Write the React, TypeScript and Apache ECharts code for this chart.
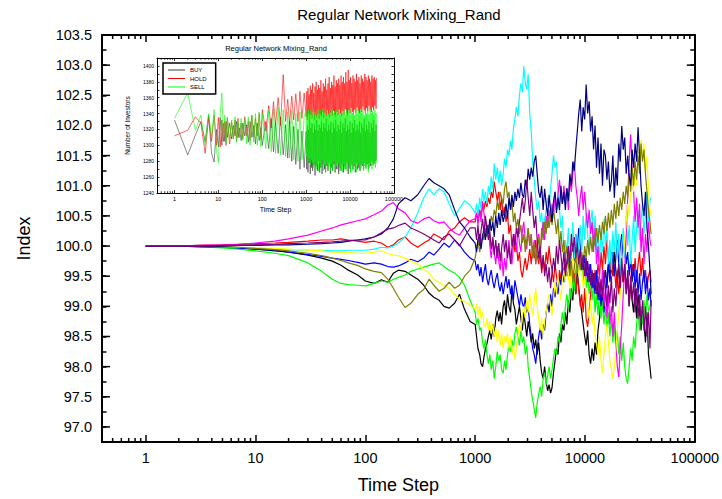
import { useEffect, useRef } from 'react';
import * as echarts from 'echarts';

const FONT = '"Liberation Sans", Arial, Helvetica, sans-serif';

// time steps (shared by all index runs)
const preSteps = [1, 2, 3, 5, 7, 10, 15, 20, 30, 40, 50, 60, 70, 85, 100, 120, 140, 160, 180, 200, 230, 260, 300, 340, 380, 420, 470, 520, 580, 650, 720, 800, 900];
const denseSteps = [
  1000, 1030, 1060, 1100, 1130, 1170, 1200, 1240, 1280, 1320,
  1360, 1400, 1450, 1490, 1540, 1590, 1640, 1690, 1740, 1800,
  1850, 1910, 1970, 2030, 2100, 2160, 2230, 2300, 2370, 2450,
  2530, 2610, 2690, 2770, 2860, 2950, 3040, 3140, 3240, 3340,
  3450, 3560, 3670, 3790, 3910, 4030, 4160, 4290, 4430, 4570,
  4710, 4860, 5010, 5170, 5340, 5500, 5680, 5860, 6040, 6230,
  6430, 6630, 6840, 7060, 7280, 7510, 7750, 7990, 8250, 8510,
  8770, 9050, 9340, 9630, 9940, 10250, 10570, 10910, 11250, 11610,
  11970, 12350, 12740, 13140, 13560, 13990, 14430, 14880, 15350, 15840,
  16340, 16850, 17390, 17940, 18500, 19090, 19690, 20310, 20950, 21620,
  22300, 23000, 23730, 24480, 25250, 26050, 26870, 27720, 28600, 29500,
  30430, 31390, 32390, 33410, 34470, 35560, 36680, 37840, 39040, 40000,
];
const steps = [...preSteps, ...denseSteps];

const runBlack = [
  100, 100, 99.99, 99.98, 99.97, 99.95, 99.92, 99.9, 99.85, 99.8, 99.75, 99.68, 99.6, 99.52, 99.42, 99.38, 99.44, 99.4, 99.55, 99.6, 99.58, 99.52, 99.45, 99.35, 99.22, 99.15, 99.1, 99.0, 98.97, 99.05, 99.2, 98.95, 98.75,
  98.7, 98.5, 98.3, 98.2, 98.05, 98.0, 98.15, 98.3, 98.38, 98.5,
  98.6, 98.45, 98.7, 98.5, 98.8, 98.93, 98.75, 98.9, 98.7, 99.0,
  99.1, 98.85, 99.2, 99.0, 98.9, 99.3, 99.05, 98.95, 98.7, 98.85,
  99.0, 98.8, 98.6, 98.9, 98.7, 98.5, 98.75, 98.6, 98.4, 98.55,
  98.3, 98.45, 98.2, 98.4, 98.1, 97.9, 97.8, 98.0, 97.75, 97.6,
  97.7, 97.56, 97.65, 97.9, 98.1, 98.3, 98.2, 98.55, 98.4, 98.7,
  98.6, 98.9, 98.7, 99.1, 98.9, 99.3, 99.1, 99.5, 99.2, 99.6,
  99.3, 99.1, 98.9, 98.7, 98.5, 98.35, 98.6, 98.2, 98.05, 98.3,
  98.1, 98.4, 98.2, 98.6, 98.8, 99.2, 99.0, 99.4, 99.6, 99.3,
  99.7, 99.5, 99.8, 99.5, 99.9, 99.6, 99.4, 99.7, 99.3, 99.6,
  99.4, 99.7, 99.3, 99.5, 99.0, 99.4, 99.1, 98.9, 99.3, 98.8,
  99.2, 98.9, 98.6, 99.0, 98.7, 98.4, 98.9, 98.2, 98.0, 97.8,
];
const runRed = [
  100, 100, 100.01, 100.02, 100.03, 100.04, 100.05, 100.06, 100.08, 100.1, 100.1, 100.12, 100.1, 100.08, 100.06, 100.08, 100.05, 99.98, 100.02, 100.1, 100.15, 100.05, 99.98, 100.05, 100.1, 100.2, 100.15, 100.1, 100.25, 100.3, 100.4, 100.47, 100.4,
  100.4, 100.55, 100.45, 100.6, 100.5, 100.7, 100.6, 100.75, 100.65, 100.8,
  100.7, 100.9, 100.8, 101.07, 100.9, 100.75, 100.9, 100.6, 100.8, 100.5,
  100.65, 100.4, 100.55, 100.2, 100.35, 100.0, 100.15, 99.9, 100.05, 99.75,
  99.9, 99.6, 99.48, 99.65, 99.8, 99.6, 99.75, 99.95, 99.7, 100.0,
  99.8, 100.1, 99.85, 99.7, 99.9, 99.55, 99.8, 99.6, 99.9, 99.7,
  100.0, 99.75, 99.6, 99.4, 99.7, 99.5, 99.3, 99.6, 99.45, 99.7,
  99.5, 99.8, 99.6, 99.9, 99.5, 99.7, 99.4, 99.6, 99.2, 99.5,
  99.3, 99.0, 99.2, 98.9, 99.3, 98.8, 98.66, 98.9, 99.2, 99.5,
  99.3, 99.6, 99.4, 99.7, 99.5, 99.9, 99.6, 100.0, 99.7, 100.1,
  99.8, 99.6, 99.9, 99.5, 99.7, 99.3, 99.6, 99.2, 99.5, 99.7,
  99.4, 99.6, 99.2, 99.5, 99.1, 99.4, 99.7, 99.5, 99.8, 99.4,
  99.7, 99.9, 99.5, 99.8, 99.4, 99.6, 99.3, 99.5, 99.6, 99.4,
];
const runGreen = [
  100, 100, 99.99, 99.97, 99.95, 99.92, 99.88, 99.84, 99.72, 99.58, 99.45, 99.38, 99.36, 99.35, 99.34, 99.38, 99.42, 99.4, 99.45, 99.48, 99.52, 99.58, 99.62, 99.65, 99.68, 99.7, 99.72, 99.66, 99.6, 99.55, 99.48, 99.35, 99.1,
  98.9, 98.7, 98.8, 98.6, 98.65, 98.4, 98.3, 98.45, 98.2, 98.05,
  98.2, 97.95, 98.1, 97.8, 98.0, 98.25, 98.1, 98.2, 97.95, 97.89,
  98.1, 97.95, 98.2, 98.35, 98.25, 98.45, 98.3, 98.55, 98.66, 98.5,
  98.35, 98.6, 98.4, 98.5, 98.2, 98.35, 98.0, 97.8, 97.6, 97.45,
  97.3, 97.15, 97.4, 97.55, 97.67, 97.5, 97.8, 97.9, 97.7, 97.85,
  98.0, 97.8, 97.95, 98.15, 98.3, 98.2, 98.5, 98.4, 98.7, 98.9,
  98.7, 99.0, 99.2, 98.95, 99.3, 99.1, 99.5, 99.25, 99.6, 99.8,
  99.97, 99.6, 99.8, 99.4, 99.7, 99.3, 99.55, 99.2, 99.5, 99.1,
  99.4, 98.9, 99.2, 98.85, 99.3, 98.8, 99.1, 98.7, 99.0, 98.6,
  98.9, 98.5, 98.8, 98.4, 98.7, 98.3, 98.6, 98.2, 98.5, 98.1,
  98.4, 98.0, 97.8, 97.72, 98.0, 98.3, 98.1, 98.5, 98.3, 98.7,
  98.9, 98.6, 99.0, 98.7, 99.1, 98.8, 99.2, 98.9, 99.0, 99.1,
];
const runBlue = [
  100, 100, 99.99, 99.98, 99.97, 99.95, 99.93, 99.9, 99.86, 99.83, 99.8, 99.78, 99.76, 99.73, 99.7, 99.72, 99.7, 99.66, 99.65, 99.67, 99.72, 99.78, 99.74, 99.8, 99.9, 99.85, 99.95, 100.05, 99.98, 100.1, 100.02, 99.9, 99.8,
  99.75, 99.6, 99.7, 99.5, 99.65, 99.4, 99.55, 99.7, 99.45, 99.35,
  99.5, 99.6, 99.4, 99.3, 99.45, 99.55, 99.35, 99.25, 99.4, 99.2,
  99.35, 99.5, 99.3, 99.45, 99.2, 99.35, 99.1, 99.43, 99.3, 99.15,
  99.0, 99.2, 99.05, 98.98, 99.15, 98.9, 98.98, 98.7, 98.5, 98.3,
  98.2, 98.05, 98.3, 98.5, 98.66, 98.45, 98.7, 98.6, 98.9, 99.05,
  98.9, 99.2, 99.0, 99.3, 99.15, 99.4, 99.2, 99.5, 99.35, 99.6,
  99.4, 99.7, 99.5, 99.8, 99.6, 99.9, 100.05, 99.75, 100.2, 99.9,
  100.3, 100.0, 99.8, 99.6, 99.85, 99.5, 99.75, 99.4, 99.7, 99.3,
  99.55, 99.2, 99.6, 99.1, 99.4, 99.0, 99.3, 98.9, 99.2, 99.5,
  99.7, 99.4, 99.6, 99.9, 99.5, 99.8, 100.1, 99.7, 100.0, 100.2,
  99.8, 100.1, 99.7, 99.9, 99.5, 99.8, 99.4, 99.7, 99.3, 99.6,
  99.2, 99.55, 99.1, 99.4, 99.6, 99.2, 99.5, 99.1, 99.3, 99.0,
];
const runCyan = [
  100, 100, 100, 99.99, 99.98, 99.97, 99.95, 99.94, 99.93, 99.93, 99.92, 99.92, 99.93, 99.93, 99.93, 99.95, 99.98, 99.97, 100.0, 100.05, 100.15, 100.3, 100.55, 100.8, 100.95, 100.85, 100.95, 100.9, 100.7, 100.5, 100.62, 100.75, 100.68,
  100.55, 100.7, 100.5, 100.8, 100.62, 100.95, 100.75, 100.9, 100.7, 101.0,
  100.85, 101.15, 100.95, 101.37, 101.1, 101.3, 101.05, 101.25, 101.0, 101.2,
  101.45, 101.3, 101.6, 101.5, 101.75, 101.6, 101.95, 102.1, 102.3, 102.15,
  102.5, 102.7, 102.55, 102.98, 102.7, 102.6, 102.85, 102.2, 101.9, 101.4,
  101.1, 100.8, 100.6, 100.75, 100.4, 100.55, 100.2, 100.45, 100.6, 100.8,
  100.65, 100.95, 101.2, 101.5, 101.3, 101.4, 100.9, 100.6, 100.3, 100.5,
  99.8, 100.1, 99.9, 100.3, 99.7, 100.0, 100.4, 99.8, 100.2, 99.6,
  100.0, 100.35, 99.9, 100.5, 100.1, 100.55, 100.2, 99.9, 100.4, 100.6,
  100.15, 100.5, 99.9, 100.3, 99.75, 100.2, 99.9, 100.45, 100.0, 100.3,
  99.7, 100.1, 99.6, 100.25, 99.9, 100.4, 99.8, 100.2, 99.5, 100.0,
  100.3, 99.8, 100.5, 100.0, 100.35, 99.7, 100.1, 100.5, 99.9, 100.3,
  100.6, 100.1, 100.4, 100.7, 100.2, 100.55, 100.9, 100.4, 100.75, 100.8,
];
const runMagenta = [
  100, 100, 100.01, 100.02, 100.03, 100.05, 100.08, 100.12, 100.18, 100.25, 100.3, 100.35, 100.38, 100.42, 100.45, 100.52, 100.58, 100.68, 100.72, 100.62, 100.55, 100.42, 100.38, 100.45, 100.48, 100.42, 100.38, 100.4, 100.3, 100.22, 100.18, 100.3, 100.42,
  100.45, 100.55, 100.35, 100.6, 100.4, 100.74, 100.55, 100.4, 100.2, 100.35,
  100.0, 99.8, 100.1, 99.9, 99.7, 100.0, 99.75, 99.6, 99.9, 99.5,
  99.8, 99.6, 99.9, 100.1, 99.8, 99.7, 100.0, 100.2, 99.9, 100.3,
  100.05, 99.9, 100.25, 100.4, 100.1, 99.95, 100.3, 100.0, 100.2, 99.8,
  100.1, 99.7, 100.0, 100.2, 99.9, 100.15, 100.4, 100.1, 100.5, 100.3,
  100.6, 100.4, 100.7, 100.5, 100.9, 100.6, 100.85, 101.1, 100.8, 100.7,
  101.0, 100.75, 100.95, 100.6, 101.1, 100.9, 101.2, 101.4, 101.0, 100.8,
  100.5, 100.8, 101.0, 100.6, 100.9, 100.55, 100.3, 100.6, 100.2, 100.4,
  99.9, 100.3, 99.7, 100.0, 99.5, 99.2, 99.6, 99.0, 99.35, 98.8,
  99.2, 98.7, 99.0, 98.5, 98.9, 98.4, 98.0, 97.83, 98.3, 98.7,
  99.2, 99.6, 100.2, 100.8, 101.4, 101.85, 101.3, 100.9, 100.4, 100.8,
  100.3, 100.7, 99.9, 100.3, 99.7, 100.2, 99.9, 100.4, 100.1, 100.0,
];
const runYellow = [
  100, 100, 100, 99.99, 99.98, 99.97, 99.96, 99.95, 99.93, 99.92, 99.9, 99.9, 99.89, 99.88, 99.88, 99.9, 99.92, 99.88, 99.85, 99.84, 99.8, 99.75, 99.7, 99.62, 99.55, 99.45, 99.4, 99.35, 99.3, 99.2, 99.12, 99.08, 99.02,
  98.95, 99.05, 98.85, 99.0, 98.8, 98.9, 98.7, 98.66, 98.8, 98.6,
  98.75, 98.55, 98.7, 98.5, 98.65, 98.4, 98.6, 98.35, 98.55, 98.3,
  98.5, 98.4, 98.55, 98.3, 98.5, 98.2, 98.35, 98.12, 98.3, 98.5,
  98.7, 98.6, 98.85, 99.0, 98.8, 99.1, 98.9, 99.2, 99.0, 98.85,
  99.1, 99.3, 99.0, 98.8, 98.6, 98.8, 98.5, 98.75, 98.9, 99.1,
  99.2, 99.0, 98.85, 99.15, 99.4, 99.2, 99.5, 99.3, 99.1, 99.45,
  99.6, 99.4, 99.7, 99.5, 99.3, 99.6, 99.8, 99.55, 99.9, 99.7,
  99.5, 99.8, 99.6, 99.3, 99.5, 99.2, 99.0, 98.8, 99.1, 98.7,
  98.9, 98.5, 98.4, 98.2, 98.5, 98.1, 97.89, 98.2, 98.5, 98.7,
  98.4, 98.1, 97.95, 97.8, 98.0, 98.3, 98.6, 98.9, 99.2, 99.5,
  99.8, 100.1, 100.4, 100.7, 100.5, 100.9, 101.2, 100.9, 101.3, 101.0,
  101.6, 101.3, 101.77, 101.4, 101.7, 101.2, 101.5, 100.9, 100.6, 100.5,
];
const runOlive = [
  100, 100, 100, 99.99, 99.98, 99.96, 99.94, 99.92, 99.88, 99.84, 99.8, 99.76, 99.72, 99.68, 99.62, 99.58, 99.56, 99.45, 99.3, 99.15, 98.98, 99.05, 99.2, 99.28, 99.45, 99.35, 99.25, 99.3, 99.4, 99.3, 99.35, 99.5, 99.6,
  99.8, 99.95, 100.1, 99.9, 100.05, 100.2, 100.1, 100.3, 100.15, 100.35,
  100.25, 100.5, 100.4, 100.6, 100.5, 100.75, 100.6, 100.9, 100.8, 100.7,
  100.95, 101.07, 100.8, 100.9, 100.6, 100.75, 100.4, 100.55, 100.3, 100.45,
  100.2, 100.35, 100.05, 100.2, 99.9, 100.1, 100.3, 100.0, 100.2, 99.8,
  100.05, 99.7, 99.95, 100.15, 99.85, 100.3, 100.1, 100.4, 100.2, 100.5,
  100.3, 100.55, 100.35, 100.6, 100.4, 100.2, 100.45, 100.0, 100.25, 99.9,
  100.1, 99.8, 100.0, 99.7, 99.5, 99.75, 99.4, 99.65, 99.85, 99.55,
  99.8, 99.6, 99.9, 99.7, 100.0, 99.8, 100.1, 99.85, 100.15, 99.9,
  100.2, 100.0, 100.3, 100.05, 100.35, 100.1, 100.4, 100.2, 100.5, 100.25,
  100.55, 100.3, 100.6, 100.35, 100.7, 100.45, 100.75, 100.5, 100.8, 100.6,
  100.9, 100.7, 101.0, 100.8, 101.2, 100.9, 101.3, 101.0, 101.4, 101.1,
  101.5, 101.2, 101.7, 101.4, 101.6, 101.2, 100.9, 100.6, 100.4, 100.2,
];
const runNavy = [
  100, 100, 100, 100, 100.01, 100.01, 100.02, 100.02, 100.03, 100.04, 100.05, 100.06, 100.08, 100.1, 100.12, 100.15, 100.2, 100.3, 100.45, 100.7, 100.8, 100.75, 100.85, 101.0, 101.12, 101.05, 101.0, 100.95, 100.85, 100.6, 100.4, 100.3, 100.15,
  100.05, 99.9, 100.1, 100.2, 99.95, 100.15, 100.3, 100.1, 100.35, 100.2,
  100.45, 100.25, 100.4, 100.15, 100.5, 100.3, 100.55, 100.35, 100.6, 100.4,
  100.5, 100.7, 100.45, 100.8, 100.6, 100.85, 100.65, 100.9, 100.75, 100.95,
  100.8, 101.05, 100.85, 100.8, 101.1, 100.95, 101.28, 101.1, 101.3, 101.15,
  101.4, 101.5, 101.2, 100.9, 100.8, 101.0, 100.6, 100.95, 100.7, 100.5,
  100.85, 100.6, 100.4, 100.75, 100.9, 100.55, 100.8, 100.6, 101.0, 100.7,
  100.9, 100.6, 100.96, 100.75, 101.2, 101.0, 101.4, 101.25, 101.6, 101.9,
  102.2, 102.43, 101.9, 102.3, 102.1, 102.68, 102.2, 102.4, 101.9, 102.15,
  101.6, 102.0, 101.3, 101.8, 101.2, 101.7, 101.0, 101.6, 101.5, 101.1,
  101.4, 100.9, 101.07, 101.5, 100.8, 101.3, 101.0, 101.7, 101.4, 101.99,
  101.6, 101.8, 101.2, 101.5, 101.17, 101.0, 101.6, 101.3, 101.7, 101.4,
  101.97, 101.5, 101.0, 100.7, 100.5, 100.9, 100.3, 100.0, 99.6, 99.2,
];
const runPurple = [
  100, 100, 100, 100.01, 100.01, 100.02, 100.03, 100.04, 100.05, 100.06, 100.07, 100.08, 100.09, 100.1, 100.1, 100.15, 100.22, 100.28, 100.3, 100.34, 100.38, 100.3, 100.25, 100.2, 100.15, 100.1, 100.05, 100.15, 100.2, 100.1, 100.0, 100.15, 100.3,
  100.3, 100.1, 100.35, 100.0, 100.25, 100.45, 100.2, 100.5, 100.3, 100.1,
  100.25, 99.95, 100.15, 99.85, 100.1, 99.8, 100.05, 99.75, 99.95, 100.2,
  99.9, 100.1, 99.8, 100.0, 99.7, 99.95, 100.2, 100.0, 100.3, 100.15,
  100.4, 100.6, 100.8, 100.55, 100.75, 101.1, 100.8, 100.5, 100.9, 100.6,
  100.3, 100.5, 100.1, 99.8, 100.0, 99.6, 99.85, 99.5, 99.7, 99.4,
  99.65, 99.3, 99.55, 99.8, 99.6, 100.0, 99.7, 100.1, 99.85, 99.6,
  99.9, 99.5, 99.75, 100.0, 99.7, 100.2, 99.9, 100.15, 99.8, 100.05,
  99.7, 99.95, 99.6, 99.85, 99.5, 99.8, 99.4, 99.7, 99.35, 99.6,
  99.3, 99.55, 99.2, 99.5, 99.1, 99.45, 99.15, 99.6, 99.3, 99.0,
  99.35, 99.05, 99.5, 98.9, 99.3, 99.0, 99.4, 99.7, 99.3, 99.8,
  99.4, 99.7, 99.2, 99.6, 99.0, 99.5, 99.1, 99.4, 98.9, 99.3,
  98.8, 99.2, 98.7, 99.1, 98.6, 99.0, 98.5, 98.9, 98.3, 99.1,
];

const runs = [
  { name: 'Run 1', color: '#000000', values: runBlack },
  { name: 'Run 2', color: '#ff0000', values: runRed },
  { name: 'Run 3', color: '#00ff00', values: runGreen },
  { name: 'Run 4', color: '#0000ff', values: runBlue },
  { name: 'Run 5', color: '#00ffff', values: runCyan },
  { name: 'Run 6', color: '#ff00ff', values: runMagenta },
  { name: 'Run 7', color: '#ffff00', values: runYellow },
  { name: 'Run 8', color: '#808000', values: runOlive },
  { name: 'Run 9', color: '#000080', values: runNavy },
  { name: 'Run 10', color: '#800080', values: runPurple },
];

// inset: number of investors
const insetEarlySteps = [1, 2, 3, 4, 5, 6, 7, 8, 9, 10, 11, 12, 13, 14, 15, 16, 18, 20, 22, 24, 26, 28, 30, 33, 36, 40, 44, 48, 53, 58, 64, 70, 77, 85, 93];
const insetSteps = [...insetEarlySteps, ...preSteps.slice(14), ...denseSteps];

const buyCounts = [
  1332, 1288, 1313, 1330, 1305, 1338, 1290, 1279, 1320, 1298, 1335, 1300, 1328, 1305, 1330, 1310, 1328, 1308, 1325, 1312,
  1330, 1310, 1322, 1306, 1328, 1312, 1326, 1304, 1330, 1310, 1325, 1302, 1328, 1306, 1322,
  1300, 1330, 1296, 1334, 1292, 1328, 1290, 1336, 1288, 1326, 1284, 1330, 1280, 1324, 1276, 1320, 1270, 1318, 1272,
  1318, 1270, 1325, 1266, 1320, 1278, 1330, 1264, 1322, 1272,
  1328, 1268, 1316, 1276, 1326, 1262, 1320, 1274, 1332, 1268,
  1318, 1280, 1326, 1266, 1322, 1272, 1330, 1264, 1318, 1276,
  1328, 1270, 1322, 1266, 1334, 1274, 1318, 1268, 1326, 1278,
  1320, 1264, 1330, 1272, 1316, 1268, 1328, 1276, 1322, 1266,
  1332, 1270, 1318, 1278, 1326, 1264, 1320, 1272, 1330, 1268,
  1316, 1276, 1328, 1266, 1322, 1274, 1334, 1270, 1318, 1278,
  1326, 1264, 1320, 1272, 1330, 1268, 1316, 1276, 1328, 1270,
  1322, 1274, 1332, 1266, 1318, 1278, 1326, 1270, 1320, 1272,
  1330, 1268, 1316, 1276, 1328, 1274, 1322, 1270, 1334, 1278,
  1318, 1272, 1326, 1276, 1320, 1270, 1330, 1278, 1316, 1274,
  1328, 1280, 1322, 1276, 1332, 1278, 1318, 1280, 1326, 1282,
];
const holdCounts = [
  1312, 1319, 1336, 1328, 1290, 1335, 1305, 1338, 1300, 1335, 1298, 1332, 1305, 1330, 1300, 1335, 1302, 1330, 1308, 1332,
  1305, 1334, 1310, 1328, 1308, 1336, 1312, 1330, 1306, 1338, 1310, 1334, 1312, 1340, 1308,
  1345, 1318, 1350, 1322, 1355, 1326, 1360, 1325, 1389, 1330, 1358, 1328, 1362, 1332, 1365, 1330, 1368, 1334, 1366,
  1336, 1368, 1332, 1372, 1340, 1364, 1330, 1375, 1338, 1370,
  1334, 1378, 1342, 1366, 1332, 1374, 1338, 1380, 1335, 1370,
  1340, 1376, 1333, 1372, 1338, 1382, 1336, 1368, 1342, 1378,
  1334, 1374, 1340, 1384, 1336, 1370, 1344, 1378, 1338, 1386,
  1335, 1372, 1341, 1380, 1337, 1376, 1343, 1388, 1339, 1374,
  1336, 1382, 1342, 1378, 1338, 1384, 1345, 1376, 1340, 1388,
  1337, 1380, 1343, 1386, 1339, 1378, 1346, 1392, 1341, 1380,
  1338, 1395, 1344, 1382, 1340, 1386, 1347, 1378, 1342, 1388,
  1339, 1384, 1345, 1380, 1341, 1390, 1348, 1382, 1343, 1386,
  1340, 1378, 1346, 1388, 1342, 1384, 1349, 1380, 1344, 1390,
  1341, 1386, 1347, 1382, 1343, 1388, 1350, 1384, 1345, 1380,
  1342, 1388, 1348, 1384, 1344, 1386, 1350, 1382, 1346, 1385,
];
const sellCounts = [
  1334, 1366, 1319, 1338, 1300, 1340, 1310, 1345, 1295, 1278, 1340, 1366, 1310, 1338, 1302, 1335, 1305, 1332, 1308, 1336,
  1304, 1330, 1310, 1334, 1306, 1332, 1302, 1336, 1300, 1338, 1304, 1340, 1300, 1342, 1298,
  1340, 1296, 1344, 1292, 1346, 1290, 1348, 1288, 1345, 1286, 1342, 1284, 1344, 1282, 1340, 1280, 1342, 1282, 1338,
  1342, 1286, 1338, 1280, 1345, 1284, 1340, 1276, 1344, 1282,
  1339, 1278, 1346, 1272, 1341, 1280, 1343, 1270, 1338, 1276,
  1345, 1268, 1340, 1278, 1344, 1272, 1339, 1282, 1346, 1268,
  1341, 1275, 1343, 1266, 1338, 1278, 1345, 1270, 1340, 1274,
  1344, 1268, 1339, 1276, 1346, 1270, 1341, 1280, 1343, 1266,
  1338, 1274, 1345, 1270, 1340, 1278, 1344, 1268, 1339, 1272,
  1346, 1266, 1341, 1276, 1343, 1270, 1338, 1274, 1345, 1268,
  1340, 1278, 1344, 1270, 1339, 1265, 1346, 1274, 1341, 1268,
  1343, 1276, 1338, 1270, 1345, 1266, 1340, 1274, 1344, 1278,
  1339, 1268, 1346, 1272, 1341, 1276, 1343, 1268, 1338, 1274,
  1345, 1270, 1340, 1276, 1344, 1266, 1339, 1272, 1346, 1278,
  1341, 1270, 1343, 1274, 1338, 1276, 1345, 1272, 1340, 1278,
];

const insetRuns = [
  { name: 'BUY', color: '#3a3a3a', values: buyCounts },
  { name: 'HOLD', color: '#ff0000', values: holdCounts },
  { name: 'SELL', color: '#00ff00', values: sellCounts },
];

const X_MIN = 0.4;
const X_MAX = 100000;
const Y_MIN = 96.75;
const Y_MAX = 103.5;
const IY_MIN = 1240;
const IY_MAX = 1410;

function minorLogTicks(min: number, max: number) {
  const out: number[] = [];
  for (let d = -1; d <= 5; d++) {
    for (let m = 2; m <= 9; m++) {
      const v = Number((m * Math.pow(10, d)).toPrecision(6));
      if (v > min && v < max) out.push(v);
    }
  }
  return out;
}

const isDecade = (v: number) => {
  const l = Math.log10(v);
  return Math.abs(l - Math.round(l)) < 1e-6;
};
const decadeLabel = (v: number) => (isDecade(v) ? String(Math.round(v)) : '');

function tickSeries(xi: number, yi: number, xMinor: number[], yMajor: number[], yRef: number, lenX: number, lenY: number, w: number) {
  const data: number[][] = [];
  xMinor.forEach((v) => data.push([v, yRef, 0]));
  yMajor.forEach((v) => data.push([1, v, 1]));
  return {
    type: 'custom',
    xAxisIndex: xi,
    yAxisIndex: yi,
    silent: true,
    z: 5,
    encode: { x: 0, y: 1 },
    data,
    renderItem: (params: any, api: any) => {
      const cs = params.coordSys;
      const kind = api.value(2);
      const st = { stroke: '#000', lineWidth: w };
      if (kind === 0) {
        const px = api.coord([api.value(0), api.value(1)])[0];
        return {
          type: 'group',
          children: [
            { type: 'line', shape: { x1: px, y1: cs.y + cs.height, x2: px, y2: cs.y + cs.height - lenX }, style: st },
            { type: 'line', shape: { x1: px, y1: cs.y, x2: px, y2: cs.y + lenX }, style: st },
          ],
        };
      }
      const py = api.coord([api.value(0), api.value(1)])[1];
      return {
        type: 'group',
        children: [
          { type: 'line', shape: { x1: cs.x, y1: py, x2: cs.x + lenY, y2: py }, style: st },
          { type: 'line', shape: { x1: cs.x + cs.width, y1: py, x2: cs.x + cs.width - lenY, y2: py }, style: st },
        ],
      };
    },
  };
}

export default function App() {
  const ref = useRef<HTMLDivElement>(null);
  useEffect(() => {
    const chart = echarts.init(ref.current!, null, { renderer: 'svg' });

    const mainYMajor: number[] = [];
    for (let k = 194; k <= 207; k++) mainYMajor.push(k / 2);

    const mainAxisLine = { show: true, onZero: false, lineStyle: { color: '#000', width: 2 } };
    const insetAxisLine = { show: true, onZero: false, lineStyle: { color: '#000', width: 1 } };

    const mainX = (position: string, show: boolean) => ({
      type: 'log',
      logBase: 10,
      gridIndex: 0,
      position,
      min: X_MIN,
      max: X_MAX,
      axisLine: mainAxisLine,
      axisTick: { show: true, inside: true, length: 7, lineStyle: { color: '#000', width: 1.5 } },
      axisLabel: { show, formatter: decadeLabel, fontSize: 14.5, color: '#000', fontFamily: FONT, margin: 8 },
      splitLine: { show: false },
    });
    const mainY = (position: string, show: boolean) => ({
      type: 'value',
      gridIndex: 0,
      position,
      min: Y_MIN,
      max: Y_MAX,
      interval: 0.25,
      axisLine: mainAxisLine,
      axisTick: { show: true, inside: true, length: 4.5, lineStyle: { color: '#000', width: 1.5 } },
      axisLabel: {
        show,
        formatter: (v: number) => (Math.abs(v * 2 - Math.round(v * 2)) < 1e-6 ? v.toFixed(1) : ''),
        fontSize: 14.5,
        color: '#000',
        fontFamily: FONT,
        margin: 10,
      },
      splitLine: { show: false },
    });
    const insetX = (position: string, show: boolean) => ({
      type: 'log',
      logBase: 10,
      gridIndex: 1,
      position,
      min: X_MIN,
      max: X_MAX,
      axisLine: insetAxisLine,
      axisTick: { show: true, inside: true, length: 3, lineStyle: { color: '#000', width: 0.8 } },
      axisLabel: { show, formatter: decadeLabel, fontSize: 5.5, color: '#000', fontFamily: FONT, margin: 3 },
      splitLine: { show: false },
    });
    const insetY = (position: string, show: boolean) => ({
      type: 'value',
      gridIndex: 1,
      position,
      min: IY_MIN,
      max: IY_MAX,
      interval: 10,
      axisLine: insetAxisLine,
      axisTick: { show: true, inside: true, length: 2.5, lineStyle: { color: '#000', width: 0.8 } },
      axisLabel: {
        show,
        formatter: (v: number) => (Math.round(v) % 20 === 0 ? String(Math.round(v)) : ''),
        fontSize: 5,
        color: '#000',
        fontFamily: FONT,
        margin: 3,
      },
      splitLine: { show: false },
    });

    const option: any = {
      animation: false,
      backgroundColor: '#fff',
      grid: [
        { left: 102, top: 35, width: 593, height: 410, show: false },
        { left: 157, top: 58, width: 237, height: 135, show: true, backgroundColor: '#fff', borderWidth: 0 },
      ],
      xAxis: [
        { ...mainX('bottom', true), name: 'Time Step', nameLocation: 'middle', nameGap: 34, nameTextStyle: { fontSize: 18, color: '#000', fontFamily: FONT } },
        mainX('top', false),
        { ...insetX('bottom', true), name: 'Time Step', nameLocation: 'middle', nameGap: 13, nameTextStyle: { fontSize: 7, color: '#000', fontFamily: FONT } },
        insetX('top', false),
      ],
      yAxis: [
        { ...mainY('left', true), name: 'Index', nameLocation: 'middle', nameGap: 69, nameTextStyle: { fontSize: 18, color: '#000', fontFamily: FONT } },
        mainY('right', false),
        { ...insetY('left', true), name: 'Number of Investors', nameLocation: 'middle', nameGap: 26, nameTextStyle: { fontSize: 6.5, color: '#000', fontFamily: FONT } },
        insetY('right', false),
      ],
      legend: {
        data: ['BUY', 'HOLD', 'SELL'],
        orient: 'vertical',
        left: 163,
        top: 63,
        padding: [4, 9, 4, 5],
        itemWidth: 17,
        itemHeight: 1,
        itemGap: 2.5,
        icon: 'rect',
        borderColor: '#000',
        borderWidth: 1.5,
        backgroundColor: '#fff',
        selectedMode: false,
        textStyle: { fontSize: 6, lineHeight: 6, color: '#000', fontFamily: FONT },
      },
      graphic: [
        {
          type: 'text',
          x: 399,
          y: 14,
          style: { text: 'Regular Network Mixing_Rand', fontSize: 15, fontFamily: FONT, fill: '#000', textAlign: 'center', textVerticalAlign: 'middle' },
        },
        {
          type: 'text',
          x: 276,
          y: 48,
          style: { text: 'Regular Network Mixing_Rand', fontSize: 7.5, fontFamily: FONT, fill: '#000', textAlign: 'center', textVerticalAlign: 'middle' },
        },
      ],
      series: [
        ...runs.map((r) => ({
          type: 'line',
          name: r.name,
          xAxisIndex: 0,
          yAxisIndex: 0,
          data: r.values.map((v, i) => [steps[i], v]),
          showSymbol: false,
          symbol: 'none',
          silent: true,
          color: r.color,
          lineStyle: { color: r.color, width: 1.2 },
        })),
        ...insetRuns.map((r) => ({
          type: 'line',
          name: r.name,
          xAxisIndex: 2,
          yAxisIndex: 2,
          data: r.values.map((v, i) => [insetSteps[i], v]),
          showSymbol: false,
          symbol: 'none',
          silent: true,
          color: r.color,
          lineStyle: { color: r.color, width: 0.6 },
        })),
        tickSeries(0, 0, minorLogTicks(X_MIN, X_MAX), mainYMajor, 100, 4, 8, 1.5),
        tickSeries(2, 2, minorLogTicks(X_MIN, X_MAX), [], 1300, 1.8, 0, 0.8),
      ],
    };

    chart.setOption(option);
    return () => chart.dispose();
  }, []);

  return <div ref={ref} style={{ position: 'fixed', left: 0, top: 0, width: 722, height: 499, background: '#fff' }} />;
}
